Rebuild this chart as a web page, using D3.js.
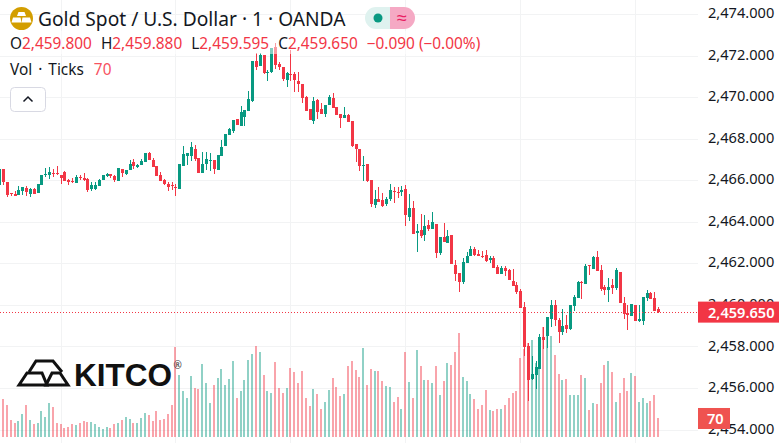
<!DOCTYPE html>
<html>
<head>
<meta charset="utf-8">
<script src="https://cdn.jsdelivr.net/npm/d3@7"></script>
<style>
html, body { margin: 0; padding: 0; background: #fff; overflow: hidden; }
text { font-family: "Noto Sans", sans-serif; }
</style>
</head>
<body>
<div id="plot"></div>
<script>
// 1 minute candles
const open = [2465.77,2466.54,2465.92,2465.39,2465.34,2465.29,2465.48,2465.63,2465.34,2465.58,
2465.39,2465.77,2466.25,2466.25,2466.35,2466.35,2466.25,2466.40,2466.01,2465.96,
2465.87,2466.16,2466.11,2466.06,2465.58,2465.58,2465.72,2466.01,2466.20,2466.30,
2466.20,2465.96,2466.54,2466.30,2466.49,2466.88,2466.64,2466.73,2466.88,2467.31,
2466.98,2466.69,2466.25,2466.01,2465.82,2465.77,2465.68,2465.58,2466.69,2467.17,
2467.17,2467.50,2467.07,2466.35,2466.78,2466.93,2466.98,2466.49,2467.17,2467.65,
2468.19,2468.39,2468.96,2468.61,2469.03,2469.33,2469.81,2471.74,2471.50,2472.03,
2471.14,2471.21,2472.43,2471.59,2471.45,2470.82,2471.11,2471.11,2470.78,2470.63,
2470.00,2469.43,2468.85,2469.86,2469.43,2469.19,2469.62,2469.96,2469.52,2469.19,
2468.99,2469.14,2468.85,2467.74,2467.50,2466.68,2466.78,2466.01,2464.81,2465.09,
2465.05,2464.85,2465.09,2465.48,2465.43,2465.43,2465.58,2464.23,2464.66,2463.46,
2463.60,2463.36,2463.84,2463.65,2463.89,2462.50,2463.27,2462.98,2463.36,2461.92,
2461.53,2461.10,2462.01,2462.35,2462.69,2462.45,2462.35,2462.40,2462.16,2462.25,
2461.82,2461.48,2461.77,2461.68,2461.15,2460.95,2460.67,2459.90,2458.02,2456.43,
2456.62,2456.91,2458.45,2458.50,2459.32,2459.99,2459.27,2458.69,2459.03,2458.84,
2459.95,2460.33,2461.10,2461.00,2461.92,2461.73,2462.30,2461.68,2460.86,2460.72,
2460.96,2460.81,2461.58,2460.09,2459.61,2459.46,2459.99,2459.22,2459.22,2460.33,
2460.57,2460.33,2459.80];
const high = [2466.54,2466.54,2465.92,2465.39,2465.48,2465.72,2465.68,2465.72,2465.63,2465.63,
2465.82,2466.25,2466.59,2466.64,2466.54,2466.69,2466.25,2466.45,2466.06,2466.11,
2466.25,2466.25,2466.35,2466.11,2465.92,2465.92,2466.06,2466.25,2466.35,2466.30,
2466.25,2466.59,2466.54,2466.49,2466.98,2467.02,2466.78,2467.02,2467.31,2467.36,
2467.07,2466.69,2466.40,2466.06,2465.92,2465.92,2465.82,2466.78,2467.65,2467.31,
2467.84,2467.70,2467.07,2467.36,2467.36,2467.31,2466.98,2467.22,2467.94,2468.23,
2468.50,2468.90,2468.96,2469.57,2469.38,2470.30,2471.74,2472.14,2472.14,2472.03,
2471.30,2472.36,2472.60,2471.69,2471.45,2471.21,2472.27,2471.21,2471.21,2470.63,
2470.05,2469.43,2470.00,2469.93,2469.72,2469.62,2470.09,2470.20,2469.52,2469.19,
2469.52,2469.19,2468.85,2467.74,2467.50,2467.17,2466.78,2466.01,2465.53,2465.67,
2465.37,2465.19,2465.82,2465.67,2465.67,2465.72,2465.77,2465.34,2465.00,2463.89,
2464.37,2464.32,2464.08,2464.47,2463.89,2463.27,2463.94,2463.60,2463.36,2462.16,
2461.53,2462.25,2462.54,2462.83,2462.78,2462.64,2462.59,2462.64,2462.35,2462.35,
2461.92,2461.87,2461.87,2461.73,2461.73,2461.10,2460.76,2460.14,2458.16,2457.54,
2457.30,2458.60,2458.93,2459.42,2460.23,2460.23,2459.37,2459.80,2459.51,2459.99,
2460.47,2461.15,2461.15,2461.97,2461.92,2462.35,2462.59,2461.92,2460.96,2461.29,
2461.25,2461.77,2461.58,2460.38,2459.99,2460.04,2459.99,2459.99,2460.38,2460.72,
2460.62,2460.62,2459.88];
const low = [2465.77,2465.77,2465.19,2465.24,2465.24,2465.29,2465.29,2465.24,2465.19,2465.34,
2465.39,2465.77,2466.16,2466.06,2466.16,2466.25,2465.82,2465.96,2465.77,2465.87,
2465.87,2466.01,2465.96,2465.44,2465.48,2465.53,2465.72,2466.01,2466.16,2466.11,
2465.92,2465.96,2466.16,2466.25,2466.49,2466.54,2466.59,2466.73,2466.88,2466.98,
2466.64,2466.20,2465.96,2465.77,2465.48,2465.53,2465.24,2465.58,2466.69,2466.73,
2466.93,2466.93,2466.35,2466.35,2466.49,2466.45,2466.30,2466.49,2467.17,2467.65,
2468.19,2468.29,2468.66,2468.61,2468.61,2469.33,2469.77,2471.30,2471.50,2471.11,
2470.78,2471.14,2471.34,2471.30,2470.78,2470.49,2470.78,2470.25,2470.25,2469.72,
2469.33,2468.90,2468.71,2468.95,2469.19,2469.04,2469.62,2469.48,2469.14,2468.51,
2468.99,2468.80,2467.60,2466.88,2466.44,2465.96,2465.91,2464.71,2464.66,2464.95,
2464.71,2464.76,2465.00,2464.90,2465.14,2465.24,2463.79,2464.04,2463.41,2462.54,
2463.22,2463.07,2463.55,2463.65,2462.25,2462.40,2463.03,2462.98,2461.97,2461.15,
2460.62,2461.00,2462.01,2462.35,2462.35,2462.35,2462.25,2462.06,2462.01,2461.77,
2461.48,2461.48,2461.39,2461.20,2460.91,2460.52,2459.85,2457.54,2455.37,2456.38,
2455.95,2456.91,2457.88,2457.92,2458.93,2458.98,2458.18,2458.55,2458.65,2458.79,
2459.70,2460.33,2460.28,2461.00,2461.44,2461.73,2461.63,2460.67,2460.47,2460.14,
2460.52,2460.72,2460.09,2459.32,2458.79,2459.46,2459.22,2459.17,2459.03,2460.19,
2460.28,2459.70,2459.595];
const close = [2466.54,2465.92,2465.29,2465.34,2465.24,2465.53,2465.68,2465.44,2465.58,2465.34,
2465.82,2466.25,2466.30,2466.40,2466.30,2466.30,2466.11,2465.96,2465.92,2465.92,
2466.16,2466.11,2466.01,2465.53,2465.77,2465.77,2466.01,2466.25,2466.30,2466.20,
2466.01,2466.59,2466.35,2466.49,2466.78,2466.69,2466.73,2466.93,2467.31,2466.98,
2466.64,2466.20,2465.96,2465.82,2465.68,2465.72,2465.63,2466.78,2467.26,2467.31,
2467.60,2467.02,2466.35,2466.78,2467.02,2466.98,2466.54,2467.22,2467.60,2468.23,
2468.45,2468.90,2468.66,2469.28,2469.38,2469.91,2471.74,2471.45,2472.03,2471.16,
2471.21,2472.36,2471.55,2471.45,2470.87,2471.14,2471.06,2470.82,2470.63,2469.96,
2469.33,2468.90,2469.81,2469.28,2469.19,2469.62,2470.00,2469.48,2469.14,2468.99,
2469.14,2468.80,2467.65,2467.50,2466.68,2466.73,2465.96,2464.85,2465.09,2464.95,
2464.76,2465.09,2465.53,2465.43,2465.38,2465.53,2464.32,2464.66,2463.41,2463.55,
2463.31,2463.79,2463.65,2463.99,2462.50,2463.27,2463.03,2463.31,2461.97,2461.48,
2461.10,2462.06,2462.35,2462.69,2462.40,2462.35,2462.30,2462.11,2462.25,2461.77,
2461.48,2461.77,2461.63,2461.20,2460.91,2460.62,2459.85,2457.97,2456.38,2456.67,
2457.01,2458.45,2458.31,2459.42,2459.99,2459.27,2458.69,2458.98,2458.84,2459.99,
2460.38,2461.10,2461.05,2461.87,2461.87,2462.30,2461.63,2460.76,2460.72,2460.86,
2460.81,2461.68,2460.09,2459.56,2459.51,2460.04,2459.22,2459.32,2460.38,2460.57,
2460.28,2459.70,2459.65];
const volume = [85,140,118,63,52,59,85,118,63,48,
52,96,74,125,111,52,48,33,37,48,
44,52,59,55,55,48,37,29,37,33,
48,52,63,74,66,52,52,70,88,81,
59,96,63,66,85,118,332,228,169,144,
225,181,177,269,199,125,192,217,251,192,
214,280,144,169,210,284,306,335,313,228,
169,162,276,181,162,181,254,239,199,243,
144,114,177,158,103,129,173,217,184,151,
158,262,280,247,221,328,192,251,243,243,
206,188,184,129,147,103,313,203,144,321,
262,210,210,199,262,155,206,273,265,313,
383,221,206,158,140,103,118,173,99,96,
103,103,118,144,162,169,291,324,346,357,
273,332,405,372,372,302,232,210,214,155,
155,155,228,217,99,125,122,199,265,280,
239,129,162,217,169,236,225,129,144,125,
133,155,70];
const priceTicks = [2454,2456,2458,2460,2462,2464,2466,2468,2470,2472,2474];
const timeGridBars = [16,46,76,106,136,166];
const lastPrice = 2459.65;
const lastVolume = 70;
const legendValues = [["O","2,459.800"],["H","2,459.880"],["L","2,459.595"],["C","2,459.650"]];

let svgWidth = 779;
let svgHeight = 443;
let paneRight = 698;
let upColor = "#089981";
let downColor = "#f23645";

let x = d3.scaleLinear().domain([0, 172]).range([-0.7, 658.1]);
let y = d3.scaleLinear().domain([2454, 2474]).range([429.5, 14]);
let yVol = d3.scaleLinear().domain([0, 405]).range([437, 327]);
let fmtPrice = d3.format(",.3f");

let candles = open.map((o, i) => ({ i, o, h: high[i], l: low[i], c: close[i], v: volume[i] }));
let colorOf = d => d.c >= d.o ? upColor : downColor;

let svg = d3.select("#plot").append("svg")
    .attr("width", svgWidth)
    .attr("height", svgHeight)
    .style("display", "block");

// grid
let grid = svg.append("g").attr("stroke", "#f2f3f4").attr("shape-rendering", "crispEdges");
grid.selectAll(".h").data(priceTicks).enter().append("line")
    .attr("x1", 0).attr("x2", paneRight)
    .attr("y1", d => Math.round(y(d)) + 0.5).attr("y2", d => Math.round(y(d)) + 0.5);
grid.selectAll(".v").data(timeGridBars).enter().append("line")
    .attr("x1", d => Math.round(x(d)) + 0.5).attr("x2", d => Math.round(x(d)) + 0.5)
    .attr("y1", 0).attr("y2", svgHeight);

// volume
svg.append("g").attr("shape-rendering", "crispEdges").selectAll("rect")
    .data(candles).enter().append("rect")
    .attr("x", d => Math.round(x(d.i)) - 1)
    .attr("width", 2)
    .attr("y", d => yVol(d.v))
    .attr("height", d => yVol(0) - yVol(d.v))
    .attr("fill", colorOf)
    .attr("opacity", 0.45);

// candles
let candle = svg.append("g").attr("shape-rendering", "crispEdges").selectAll("g")
    .data(candles).enter().append("g").attr("fill", colorOf);
candle.append("rect")
    .attr("x", d => Math.round(x(d.i)))
    .attr("width", 1)
    .attr("y", d => y(d.h))
    .attr("height", d => y(d.l) - y(d.h));
candle.append("rect")
    .attr("x", d => Math.round(x(d.i)) - 1)
    .attr("width", 3)
    .attr("y", d => y(Math.max(d.o, d.c)))
    .attr("height", d => Math.max(1, Math.abs(y(d.o) - y(d.c))));

// last price line
svg.append("line")
    .attr("x1", 0).attr("x2", paneRight)
    .attr("y1", Math.round(y(lastPrice)) + 0.5).attr("y2", Math.round(y(lastPrice)) + 0.5)
    .attr("stroke", downColor)
    .attr("stroke-dasharray", "1 2");

// price axis
let axis = d3.axisRight(y).tickValues(priceTicks).tickFormat(fmtPrice).tickSize(0).tickPadding(0);
let axisG = svg.append("g").attr("transform", `translate(708,-1)`).call(axis);
axisG.select(".domain").remove();
axisG.selectAll("text")
    .attr("font-size", 14.6)
    .attr("fill", "#131722")
    .style("font-family", '"Noto Sans", sans-serif');

svg.append("rect").attr("x", paneRight).attr("y", y(lastPrice) - 10.5).attr("width", 81).attr("height", 21).attr("fill", downColor);
svg.append("text").attr("x", 708).attr("y", y(lastPrice) + 5.5)
    .attr("font-size", 14.6).attr("font-weight", 600).attr("fill", "#fff").text(fmtPrice(lastPrice));

svg.append("rect").attr("x", paneRight).attr("y", yVol(lastVolume) - 10).attr("width", 32).attr("height", 21).attr("fill", "#ef5350");
svg.append("text").attr("x", 707).attr("y", yVol(lastVolume) + 6)
    .attr("font-size", 14.6).attr("font-weight", 600).attr("fill", "#fff").text(lastVolume);

// kitco logo
let logo = svg.append("g");
logo.append("g").attr("fill", "none").attr("stroke", "#111").attr("stroke-width", 3).attr("stroke-linejoin", "miter")
    .selectAll("path")
    .data(["M29,372 L36,361 L53,361 L62,372", "M19,385 L27,373 L42,373 L47,385 Z", "M46,385 L52,373 L60,373 L68,385 Z"])
    .enter().append("path").attr("d", d => d);
logo.append("text").attr("x", 74).attr("y", 386)
    .attr("font-size", 31).attr("font-weight", 700)
    .attr("textLength", 98).attr("lengthAdjust", "spacingAndGlyphs")
    .style("font-family", '"Liberation Sans", sans-serif')
    .attr("fill", "#111").text("KITCO");
logo.append("text").attr("x", 173.5).attr("y", 369).attr("font-size", 10).attr("fill", "#333").text("®");

// legend
svg.append("rect").attr("x", 8).attr("y", 31).attr("width", 479).attr("height", 23).attr("fill", "#fff").attr("opacity", 0.5);

svg.append("circle").attr("cx", 21.5).attr("cy", 18.5).attr("r", 11.5).attr("fill", "#d39e00");
svg.append("g").attr("fill", "#fff").selectAll("path")
    .data(["M18.5,12 L24.5,12 L26,16 L17,16 Z", "M13,17.5 L20.5,17.5 L21.5,22.5 L11.5,22.5 Z", "M22.5,17.5 L30,17.5 L31.5,22.5 L21.5,22.5 Z"])
    .enter().append("path").attr("d", d => d);

svg.append("text").attr("x", 38).attr("y", 26)
    .attr("font-size", 19.2).attr("fill", "#131722")
    .text("Gold Spot / U.S. Dollar · 1 · OANDA");

svg.append("path").attr("d", "M390,7 H376 A11,11 0 0 0 376,29 H390 Z").attr("fill", "#dff2ef");
svg.append("path").attr("d", "M390,7 H404 A11,11 0 0 1 404,29 H390 Z").attr("fill", "#f5a9c4");
svg.append("circle").attr("cx", 378).attr("cy", 18).attr("r", 4.5).attr("fill", upColor);
svg.append("text").attr("x", 402).attr("y", 24).attr("text-anchor", "middle")
    .attr("font-size", 18).attr("fill", "#e91e63").text("≈");

let legendRow = svg.append("text").attr("x", 10).attr("y", 49).attr("font-size", 15.4);
legendValues.forEach((d, i) => {
    legendRow.append("tspan").attr("fill", "#131722").attr("dx", i ? 9 : 0).text(d[0]);
    legendRow.append("tspan").attr("fill", downColor).text(d[1]);
});
legendRow.append("tspan").attr("fill", downColor).attr("dx", 9).text("−0.090 (−0.00%)");

let volRow = svg.append("text").attr("x", 10).attr("y", 75).attr("font-size", 15.4);
volRow.append("tspan").attr("fill", "#131722").attr("word-spacing", 2).text("Vol · Ticks");
volRow.append("tspan").attr("fill", "#f7525f").attr("dx", 10).text(lastVolume);

svg.append("rect").attr("x", 10.5).attr("y", 87.5).attr("width", 35).attr("height", 24).attr("rx", 4)
    .attr("fill", "#fff").attr("stroke", "#d8d9e3");
svg.append("path").attr("d", "M23.5,101.5 L28,97 L32.5,101.5").attr("fill", "none").attr("stroke", "#131722").attr("stroke-width", 1.5);
</script>
</body>
</html>
